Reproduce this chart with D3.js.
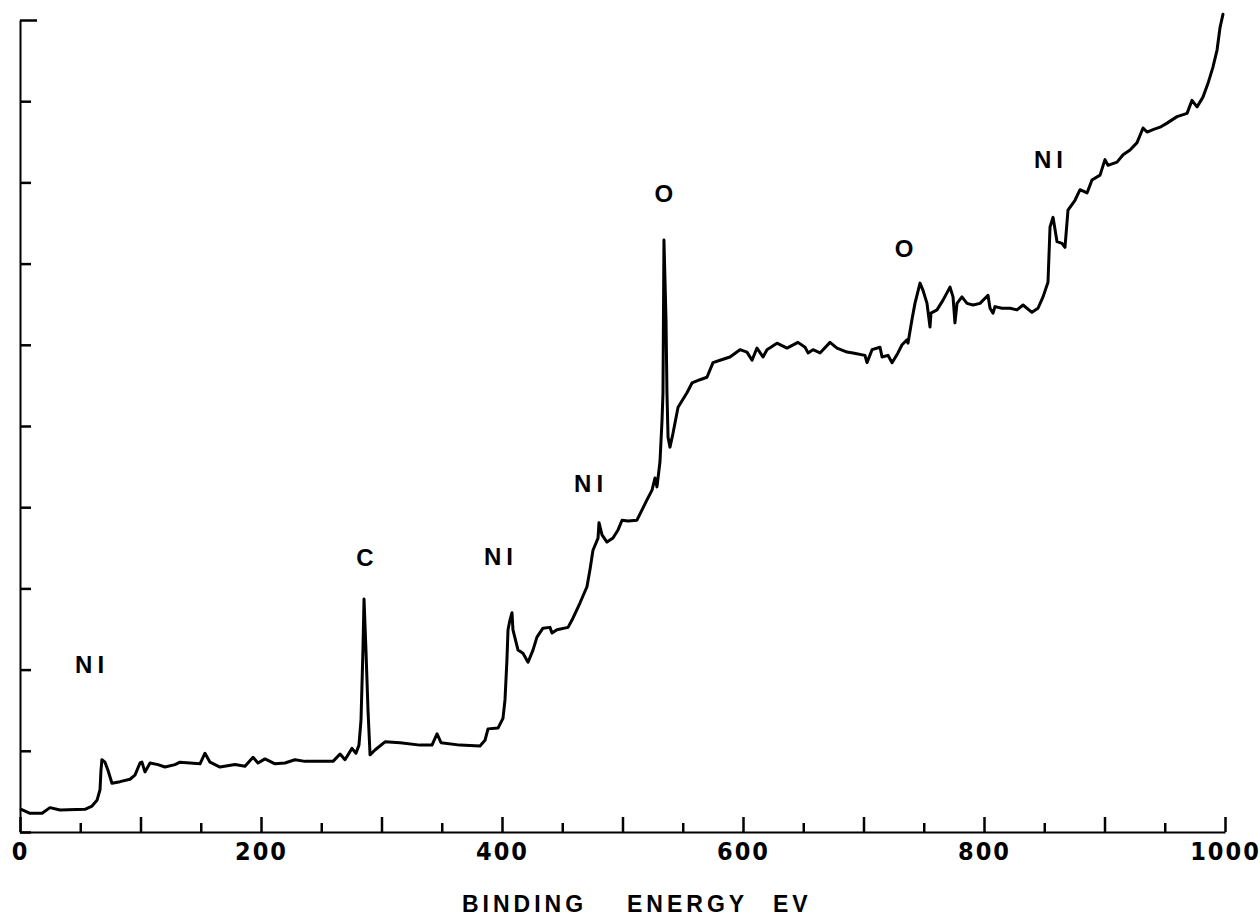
<!DOCTYPE html>
<html>
<head>
<meta charset="utf-8">
<script src="https://d3js.org/d3.v7.min.js"></script>
<style>
  body { margin: 0; background: #fff; }
  svg { display: block; }
</style>
</head>
<body>
<div id="spectrum"></div>
<script>
// binding energy (eV)
var energy = [1, 8.3, 18.3, 24.9, 33.2, 53.9, 59.8, 63.9, 66.4, 67.2, 68.0, 70.5, 73.0, 76.3, 83.0, 91.3, 95.4, 99.6, 101.2, 103.7,
  107.9, 114.5, 120.3, 128.6, 132.8, 141.1, 149.4, 153.5, 157.7, 166.0, 178.4, 186.7, 193.4, 197.5, 203.3, 211.6, 219.9, 228.2, 236.5, 259.8,
  265.6, 269.7, 275.5, 278.8, 281.3, 283.0, 284.6, 285.5, 287.1, 288.8, 290.5, 294.6, 302.9, 315.4, 332.0, 341.9, 346.1, 349.4, 365.1, 381.7,
  385.9, 388.4, 396.7, 400.8, 402.5, 404.1, 405.0, 406.6, 408.3, 409.1, 413.3, 417.4, 421.6, 425.7, 429.0, 434.0, 439.8, 441.5, 445.6, 454.8,
  458.1, 464.7, 470.5, 473.0, 475.5, 479.7, 480.5, 483.0, 487.1, 492.1, 496.3, 499.6, 504.6, 512.0, 520.3, 524.5, 527.0, 528.6, 531.1, 532.8,
  533.6, 534.4, 536.1, 536.9, 537.8, 539.4, 541.9, 546.1, 553.5, 557.7, 564.3, 570.1, 575.1, 580.9, 589.2, 597.5, 603.3, 607.5, 611.6, 616.6,
  619.9, 628.2, 636.5, 645.6, 651.5, 654.0, 658.1, 663.9, 672.2, 678.0, 686.3, 691.3, 701.2, 702.9, 707.1, 713.7, 715.4, 720.3, 723.7, 728.6,
  732.0, 736.1, 736.9, 740.2, 742.7, 746.9, 749.4, 752.7, 755.2, 756.0, 761.0, 766.0, 771.8, 774.3, 775.9, 777.6, 781.7, 785.9, 790.9, 796.7,
  803.3, 805.0, 807.5, 809.1, 814.9, 821.6, 827.4, 832.4, 839.8, 844.8, 849.0, 853.1, 854.8, 857.3, 860.6, 864.7, 867.2, 869.7, 875.5, 879.7,
  885.5, 889.6, 896.3, 900.4, 902.9, 910.4, 915.4, 921.2, 927.0, 932.0, 935.3, 940.2, 946.1, 951.9, 960.2, 968.5, 972.6, 976.8, 981.7, 985.9,
  990.0, 993.4, 995.9, 998.3];

// intensity, percent of full scale
var intensity = [2.8, 2.3, 2.3, 3.0, 2.7, 2.8, 3.2, 3.9, 5.2, 7.6, 8.9, 8.6, 7.6, 6.0, 6.2, 6.5, 7.0, 8.5, 8.6, 7.4,
  8.5, 8.3, 8.0, 8.3, 8.6, 8.5, 8.4, 9.7, 8.6, 8.0, 8.3, 8.1, 9.2, 8.5, 9.0, 8.4, 8.5, 8.9, 8.7, 8.7,
  9.6, 8.9, 10.3, 9.7, 10.7, 13.8, 22.4, 28.7, 22.4, 15.0, 9.5, 10.1, 11.1, 11.0, 10.7, 10.7, 12.1, 11.0, 10.7, 10.6,
  11.3, 12.7, 12.8, 14.0, 16.3, 21.2, 24.9, 26.1, 27.0, 24.9, 22.4, 22.0, 20.9, 22.4, 24.0, 25.1, 25.2, 24.5, 24.9, 25.2,
  26.1, 28.2, 30.2, 32.3, 34.7, 36.2, 38.1, 36.6, 35.7, 36.2, 37.2, 38.4, 38.3, 38.4, 40.9, 42.1, 43.6, 42.5, 45.6, 50.7,
  54.1, 72.9, 63.1, 54.1, 48.6, 47.4, 49.1, 52.3, 54.1, 55.3, 55.7, 56.0, 57.8, 58.1, 58.5, 59.4, 59.1, 58.1, 59.6, 58.5,
  59.4, 60.2, 59.6, 60.3, 59.7, 59.0, 59.4, 59.0, 60.3, 59.6, 59.1, 59.0, 58.7, 57.8, 59.4, 59.7, 58.5, 58.7, 57.8, 59.0,
  60.0, 60.6, 60.2, 63.1, 65.1, 67.6, 66.7, 65.1, 62.2, 63.9, 64.3, 65.5, 67.1, 65.9, 62.7, 65.1, 65.9, 65.1, 64.9, 65.1,
  66.1, 64.5, 63.9, 64.7, 64.5, 64.5, 64.3, 64.9, 64.0, 64.5, 65.9, 67.7, 74.5, 75.7, 72.7, 72.5, 72.0, 76.6, 77.8, 79.1,
  78.7, 80.3, 80.9, 82.8, 82.1, 82.5, 83.4, 84.0, 84.9, 86.7, 86.2, 86.5, 86.8, 87.3, 88.1, 88.5, 90.1, 89.3, 90.5, 92.2,
  94.2, 96.3, 99.1, 100.7];

// peak labels
var peakLabels = ["NI", "C", "NI", "NI", "O", "O", "NI"];
var peakEnergy = [59.8, 286.3, 399.2, 473.9, 534.4, 733.6, 855.6];
var peakHeight = [19.6, 32.8, 32.9, 41.9, 77.6, 70.8, 81.8];

var xTicks = d3.range(0, 1001, 50);
var xLabels = [0, 200, 400, 600, 800, 1000];
var yTicks = d3.range(0, 101, 10);

var margin = {top: 20, right: 35, bottom: 90, left: 20},
    width = 1260 - margin.left - margin.right,
    height = 922 - margin.top - margin.bottom;

var svg = d3.select("#spectrum")
  .append("svg")
    .attr("width", 1260)
    .attr("height", 922)
  .append("g")
    .attr("transform", "translate(" + margin.left + "," + margin.top + ")");

var x = d3.scaleLinear()
  .domain([0, 1000])
  .range([0, width]);

var y = d3.scaleLinear()
  .domain([0, 100])
  .range([height, 0]);

// X axis, ticks pointing up into the plot
var xAxis = svg.append("g")
  .attr("transform", "translate(0," + height + ")")
  .call(d3.axisBottom(x)
    .tickValues(xTicks)
    .tickSizeInner(-15)
    .tickSizeOuter(0)
    .tickPadding(10)
    .tickFormat(function(d) { return xLabels.indexOf(d) >= 0 ? d : ""; }));

xAxis.select(".domain").attr("stroke", "#000").attr("stroke-width", 2);
xAxis.selectAll(".tick line")
  .attr("stroke", "#000")
  .attr("stroke-width", 2.5)
  .attr("y2", function(d) { return d % 100 === 0 ? -15 : -9; });
xAxis.selectAll(".tick text")
  .attr("fill", "#000")
  .style("font-family", "'Liberation Sans Narrow', 'DejaVu Sans Condensed', sans-serif")
  .style("font-weight", "bold")
  .style("font-size", "25px")
  .style("letter-spacing", "2px");

// Y axis, no labels, ticks pointing right
var yAxis = svg.append("g")
  .call(d3.axisLeft(y)
    .tickValues(yTicks)
    .tickSizeInner(-11)
    .tickSizeOuter(0)
    .tickFormat(""));

yAxis.select(".domain").attr("stroke", "#000").attr("stroke-width", 2);
yAxis.selectAll(".tick line")
  .attr("stroke", "#000")
  .attr("stroke-width", 2.5)
  .attr("x2", function(d) { return d === 100 ? 17 : 11; });

// spectrum trace
var line = d3.line()
  .x(function(d, i) { return x(energy[i]); })
  .y(function(d) { return y(d); });

svg.append("path")
  .datum(intensity)
  .attr("d", line)
  .attr("fill", "none")
  .attr("stroke", "#000")
  .attr("stroke-width", 3)
  .attr("stroke-linejoin", "round")
  .attr("stroke-linecap", "round");

// element labels
svg.selectAll("peakLabel")
  .data(peakLabels)
  .enter()
  .append("text")
    .attr("x", function(d, i) { return x(peakEnergy[i]); })
    .attr("y", function(d, i) { return y(peakHeight[i]); })
    .attr("text-anchor", "middle")
    .style("font-family", "'Liberation Sans', Arial, sans-serif")
    .style("font-weight", "bold")
    .style("font-size", "24px")
    .style("letter-spacing", function(d) { return d === "NI" ? "5px" : "0px"; })
    .text(function(d) { return d; });

// axis title, words spaced like the original
var titleWords = ["BINDING", "ENERGY", "EV"];
var titleX = [442, 607, 753];
svg.selectAll("titleWord")
  .data(titleWords)
  .enter()
  .append("text")
    .attr("x", function(d, i) { return titleX[i]; })
    .attr("y", height + 80)
    .style("font-family", "'Liberation Sans', Arial, sans-serif")
    .style("font-weight", "bold")
    .style("font-size", "23px")
    .style("letter-spacing", "4px")
    .text(function(d) { return d; });
</script>
</body>
</html>
